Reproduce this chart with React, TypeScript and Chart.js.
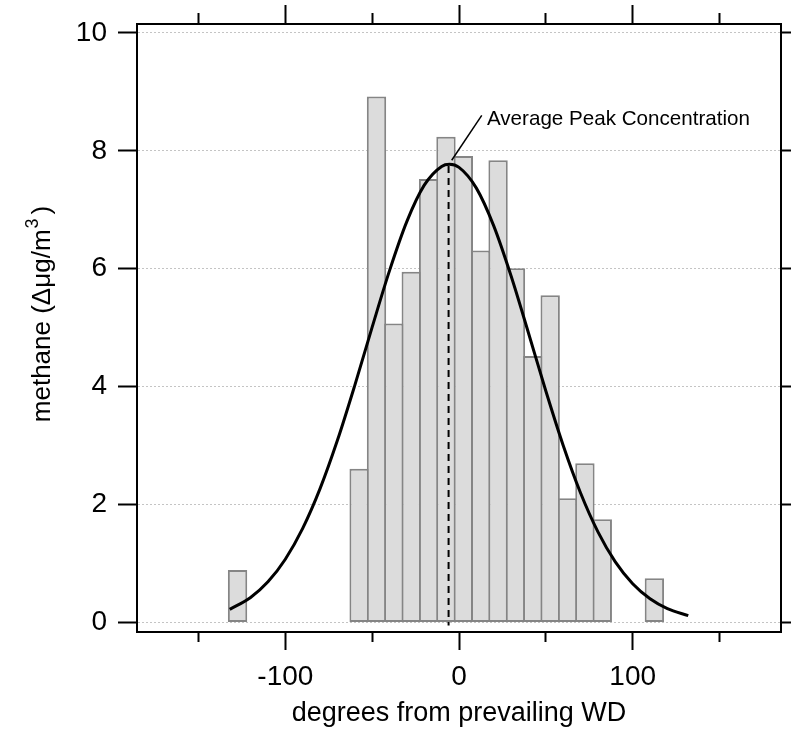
import { useEffect, useRef } from "react";
import { Chart, registerables } from "chart.js";

Chart.register(...registerables);

// ---- data ----
const binCenters = [-127.5, -57.5, -47.5, -37.5, -27.5, -17.5, -7.5, 2.5, 12.5, 22.5, 32.5, 42.5, 52.5, 62.5, 72.5, 82.5, 112.5];
const binValues = [0.89, 2.61, 8.92, 5.07, 5.95, 7.52, 8.24, 7.91, 6.31, 7.84, 6.01, 4.52, 5.55, 2.11, 2.7, 1.75, 0.75];

const fitX = [-132, -120, -110, -100, -90, -80, -70, -60, -50, -40, -30, -20, -10, -5.5, 0, 10, 20, 30, 40, 50, 60, 70, 80, 90, 100, 110, 120, 132];
const fitY = [0.224, 0.426, 0.691, 1.074, 1.597, 2.271, 3.09, 4.023, 5.01, 5.968, 6.803, 7.417, 7.735, 7.77, 7.718, 7.367, 6.727, 5.876, 4.911, 3.926, 3.003, 2.197, 1.538, 1.029, 0.659, 0.404, 0.237, 0.118];

const peakX = [-6, -6];
const peakY = [7.74, -0.05];

const leaderX = [-4.2, 13.1];
const leaderY = [7.84, 8.6];

const annotationText = "Average Peak Concentration";
const annotationPos = [16.1, 8.435];

const xTicks = [-150, -100, -50, 0, 50, 100, 150];
const xLabeled = [-100, 0, 100];
const yTicks = [0, 2, 4, 6, 8, 10];

const xRange = [-185.4, 185.4];
const yRange = [-0.16, 10.15];

const xTitle = "degrees from prevailing WD";
const yTitleMain = "methane (\u0394\u03bcg/m";
const yTitleSup = "3";
const yTitleEnd = ")";

const FONT = '"Liberation Sans", Arial, sans-serif';

const isMajorX = (v: number) => xLabeled.includes(v);

const noPad = (s: any) => {
  s.paddingTop = 0;
  s.paddingBottom = 0;
  s.paddingLeft = 0;
  s.paddingRight = 0;
};

const overlayPlugin = {
  id: "overlayText",
  afterDraw(chart: any) {
    const ctx = chart.ctx;
    const xs = chart.scales.x;
    const ys = chart.scales.y;
    // annotation
    ctx.save();
    ctx.fillStyle = "#000";
    ctx.font = `20.6px ${FONT}`;
    ctx.textAlign = "left";
    ctx.textBaseline = "alphabetic";
    ctx.fillText(annotationText, xs.getPixelForValue(annotationPos[0]), ys.getPixelForValue(annotationPos[1]));
    ctx.restore();

    // y axis title with superscript
    ctx.save();
    ctx.fillStyle = "#000";
    ctx.textBaseline = "alphabetic";
    ctx.textAlign = "left";
    const mainFont = `26px ${FONT}`;
    const supFont = `18px ${FONT}`;
    ctx.font = mainFont;
    const w1 = ctx.measureText(yTitleMain).width;
    const w3 = ctx.measureText(yTitleEnd).width;
    ctx.font = supFont;
    const w2 = ctx.measureText(yTitleSup).width;
    const total = w1 + w2 + w3 + 5;
    const cy = (chart.chartArea.top + chart.chartArea.bottom) / 2 - 14;
    ctx.translate(50, cy);
    ctx.rotate(-Math.PI / 2);
    let x = -total / 2;
    ctx.font = mainFont;
    ctx.fillText(yTitleMain, x, 0);
    x += w1 + 1;
    ctx.font = supFont;
    ctx.fillText(yTitleSup, x, -12);
    x += w2 + 4;
    ctx.font = mainFont;
    ctx.fillText(yTitleEnd, x, 0);
    ctx.restore();
  },
};

export default function App() {
  const canvasRef = useRef<HTMLCanvasElement | null>(null);

  useEffect(() => {
    const canvas = canvasRef.current;
    if (!canvas) return;

    const tickFont = { family: FONT, size: 28 };

    const chart = new Chart(canvas, {
      type: "bar",
      data: {
        datasets: [
          {
            type: "line",
            label: "leader",
            data: leaderX.map((x, i) => ({ x, y: leaderY[i] })),
            borderColor: "#000",
            borderWidth: 1.5,
            pointRadius: 0,
            xAxisID: "x",
            yAxisID: "y",
            order: 0,
          } as any,
          {
            type: "line",
            label: "fit",
            data: fitX.map((x, i) => ({ x, y: fitY[i] })),
            borderColor: "#000",
            borderWidth: 3,
            pointRadius: 0,
            cubicInterpolationMode: "monotone",
            xAxisID: "x",
            yAxisID: "y",
            order: 1,
          } as any,
          {
            type: "line",
            label: "peak",
            data: peakX.map((x, i) => ({ x, y: peakY[i] })),
            borderColor: "#000",
            borderWidth: 2,
            borderDash: [7, 5],
            pointRadius: 0,
            xAxisID: "x",
            yAxisID: "y",
            order: 2,
          } as any,
          {
            type: "bar",
            label: "methane",
            data: binCenters.map((x, i) => ({ x, y: binValues[i] })),
            backgroundColor: "#dcdcdc",
            borderColor: "#858585",
            borderWidth: 2,
            borderSkipped: false,
            barPercentage: 1.115,
            categoryPercentage: 1,
            xAxisID: "x",
            yAxisID: "y",
            order: 3,
          } as any,
        ],
      },
      options: {
        animation: false,
        responsive: false,
        devicePixelRatio: 1,
        layout: { padding: 0 },
        plugins: {
          legend: { display: false },
          tooltip: { enabled: false },
        },
        scales: {
          x: {
            type: "linear",
            axis: "x",
            position: "bottom",
            min: xRange[0],
            max: xRange[1],
            offset: false,
            afterBuildTicks: (s: any) => {
              s.ticks = xTicks.map((v) => ({ value: v }));
            },
            afterFit: (s: any) => {
              s.height = 104;
              noPad(s);
            },
            grid: {
              display: true,
              offset: false,
              drawOnChartArea: false,
              drawTicks: true,
              tickLength: 18,
              tickWidth: 2,
              tickColor: "#000",
              tickBorderDash: (c: any) => (c.tick && !isMajorX(c.tick.value) ? [9, 100] : []),
            },
            border: { display: true, color: "#000", width: 2 },
            ticks: {
              autoSkip: false,
              maxRotation: 0,
              padding: 10.5,
              color: "#000",
              font: tickFont,
              callback: (v: any) => (isMajorX(Number(v)) ? String(v) : ""),
            },
            title: {
              display: true,
              text: xTitle,
              color: "#000",
              font: { family: FONT, size: 27 },
              padding: { top: 0, bottom: 6 },
            },
          } as any,
          xTop: {
            type: "linear",
            axis: "x",
            position: "top",
            min: xRange[0],
            max: xRange[1],
            offset: false,
            afterBuildTicks: (s: any) => {
              s.ticks = xTicks.map((v) => ({ value: v }));
            },
            afterFit: (s: any) => {
              s.height = 24;
              noPad(s);
            },
            grid: {
              display: true,
              offset: false,
              drawOnChartArea: false,
              drawTicks: true,
              tickLength: 19,
              tickWidth: 2,
              tickColor: "#000",
              tickBorderDash: (c: any) => (c.tick && !isMajorX(c.tick.value) ? [0, 8, 10, 100] : []),
            },
            border: { display: true, color: "#000", width: 2 },
            ticks: { display: false },
          } as any,
          y: {
            type: "linear",
            axis: "y",
            position: "left",
            min: yRange[0],
            max: yRange[1],
            afterBuildTicks: (s: any) => {
              s.ticks = yTicks.map((v) => ({ value: v }));
            },
            afterFit: (s: any) => {
              s.width = 137;
              noPad(s);
            },
            grid: {
              display: true,
              drawOnChartArea: true,
              drawTicks: true,
              color: "#c4c4c4",
              lineWidth: 1,
              tickLength: 19,
              tickWidth: 2,
              tickColor: "#000",
            },
            border: { display: true, color: "#000", width: 2, dash: [2, 2] },
            ticks: {
              padding: 11,
              color: "#000",
              font: tickFont,
              callback: (v: any) => String(v),
            },
          } as any,
          y2: {
            type: "linear",
            axis: "y",
            position: "right",
            min: yRange[0],
            max: yRange[1],
            afterBuildTicks: (s: any) => {
              s.ticks = yTicks.map((v) => ({ value: v }));
            },
            afterFit: (s: any) => {
              s.width = 10;
              noPad(s);
            },
            grid: {
              display: true,
              drawOnChartArea: false,
              drawTicks: true,
              tickLength: 10,
              tickWidth: 2,
              tickColor: "#000",
            },
            border: { display: true, color: "#000", width: 2 },
            ticks: { display: false },
          } as any,
        },
      },
      plugins: [overlayPlugin],
    });

    return () => {
      chart.destroy();
    };
  }, []);

  return (
    <div style={{ position: "absolute", left: 0, top: 0, width: 791, height: 736, background: "#fff" }}>
      <canvas ref={canvasRef} width={791} height={736} style={{ display: "block", width: 791, height: 736 }} />
    </div>
  );
}
